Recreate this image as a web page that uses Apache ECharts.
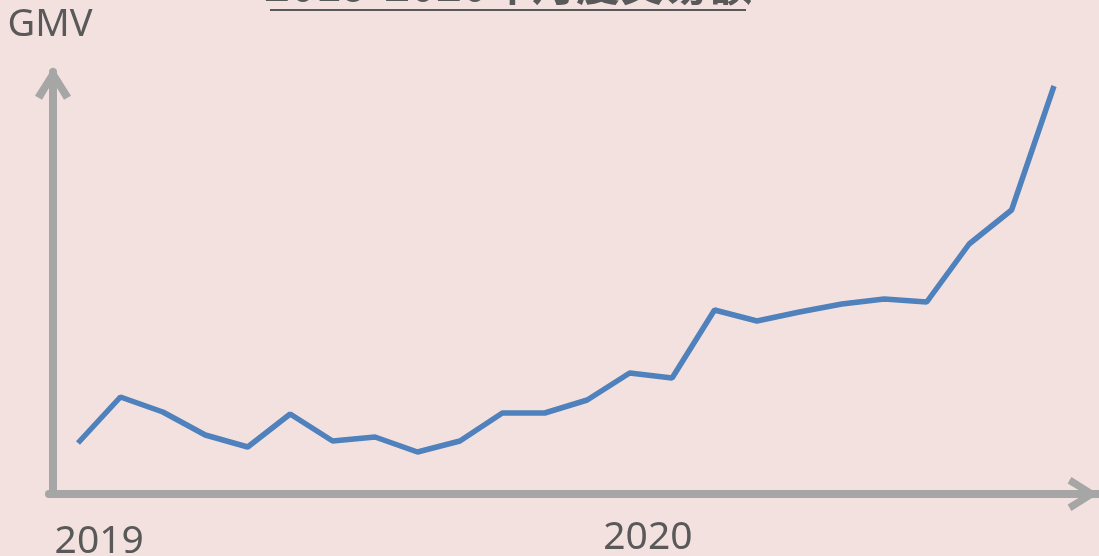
<!DOCTYPE html>
<html>
<head>
    <meta charset="utf-8">
    <title>GMV</title>
    <script src="https://cdn.jsdelivr.net/npm/echarts@6/dist/echarts.min.js"></script>
    <style>
        html, body { margin: 0; padding: 0; background: #f3e1e0; }
    </style>
</head>
<body>
<div id="main" style="width: 1099px;height:556px;"></div>

<script type="text/javascript">
    // 月份（2019-01 ~ 2020-12）
    var months = ['2019-01','2019-02','2019-03','2019-04','2019-05','2019-06','2019-07','2019-08','2019-09','2019-10','2019-11','2019-12',
                  '2020-01','2020-02','2020-03','2020-04','2020-05','2020-06','2020-07','2020-08','2020-09','2020-10','2020-11','2020-12'];
    // GMV（相对值）
    var gmv = [5.1, 9.7, 8.2, 5.9, 4.7, 8.0, 5.3, 5.7, 4.2, 5.3, 8.1, 8.1,
               9.4, 12.1, 11.6, 18.4, 17.3, 18.2, 19.0, 19.5, 19.2, 25.0, 28.4, 40.8];
    // X轴年份标签及位置
    var yearLabels = ['2019', '2020'];
    var yearPos = [0.5, 13.43];

    var gray = '#a6a6a6';
    var textColor = '#595959';
    var arrow = 'path://M18 0L36 28.5L29 32.5L18 14L7 32.5L0 28.5Z';

    var points = [];
    for (var i = 0; i < gmv.length; i++) {
        points.push([i, gmv[i]]);
    }

    var myChart = echarts.init(document.getElementById('main'));
    myChart.setOption({
        backgroundColor: '#f3e1e0',
        animation: false,
        title: {
            text: '{t|2019-2020年月度交易额}\n{u| }',
            left: 270,
            top: -41,
            padding: 0,
            textStyle: {
                rich: {
                    t: {
                        fontFamily: 'Noto Sans CJK SC',
                        fontSize: 44,
                        fontWeight: 'bold',
                        color: textColor,
                        lineHeight: 50,
                        width: 476,
                        align: 'center'
                    },
                    u: {
                        fontSize: 1,
                        width: 476,
                        height: 2,
                        lineHeight: 2,
                        backgroundColor: textColor
                    }
                }
            }
        },
        grid: {
            left: 49,
            right: 0,
            top: 72,
            bottom: 62,
            outerBoundsMode: 'none'
        },
        xAxis: {
            type: 'value',
            min: -0.683,
            max: 24.06,
            splitLine: { show: false },
            axisTick: { show: false },
            axisLine: {
                onZero: false,
                lineStyle: { color: gray, width: 8 },
                symbol: ['none', arrow],
                symbolSize: [34, 32],
                symbolOffset: [0, -16]
            },
            axisLabel: {
                customValues: yearPos,
                margin: 24,
                formatter: function (val) {
                    var idx = yearPos.indexOf(val);
                    if (idx < 0) return '';
                    return (idx === 0 ? '{a|' : '{b|') + yearLabels[idx] + '}';
                },
                rich: {
                    a: { fontFamily: 'Noto Sans', fontSize: 39, color: textColor, padding: [4, 0, 0, 0] },
                    b: { fontFamily: 'Noto Sans', fontSize: 39, color: textColor, padding: [0, 0, 0, 0] }
                }
            }
        },
        yAxis: {
            type: 'value',
            min: 0,
            max: 42.2,
            offset: -4,
            name: 'GMV',
            nameLocation: 'end',
            nameGap: 28,
            nameTextStyle: {
                fontFamily: 'Noto Sans',
                fontSize: 38,
                color: textColor,
                padding: [0, 6, 0, 0]
            },
            splitLine: { show: false },
            axisTick: { show: false },
            axisLabel: { show: false },
            axisLine: {
                onZero: false,
                lineStyle: { color: gray, width: 8 },
                symbol: ['none', arrow],
                symbolSize: [36, 33],
                symbolOffset: [0, -11.5]
            }
        },
        series: [{
            name: 'GMV',
            type: 'line',
            data: points,
            showSymbol: false,
            lineStyle: { color: '#4f81bd', width: 5.5 }
        }]
    });
</script>

</body>
</html>
